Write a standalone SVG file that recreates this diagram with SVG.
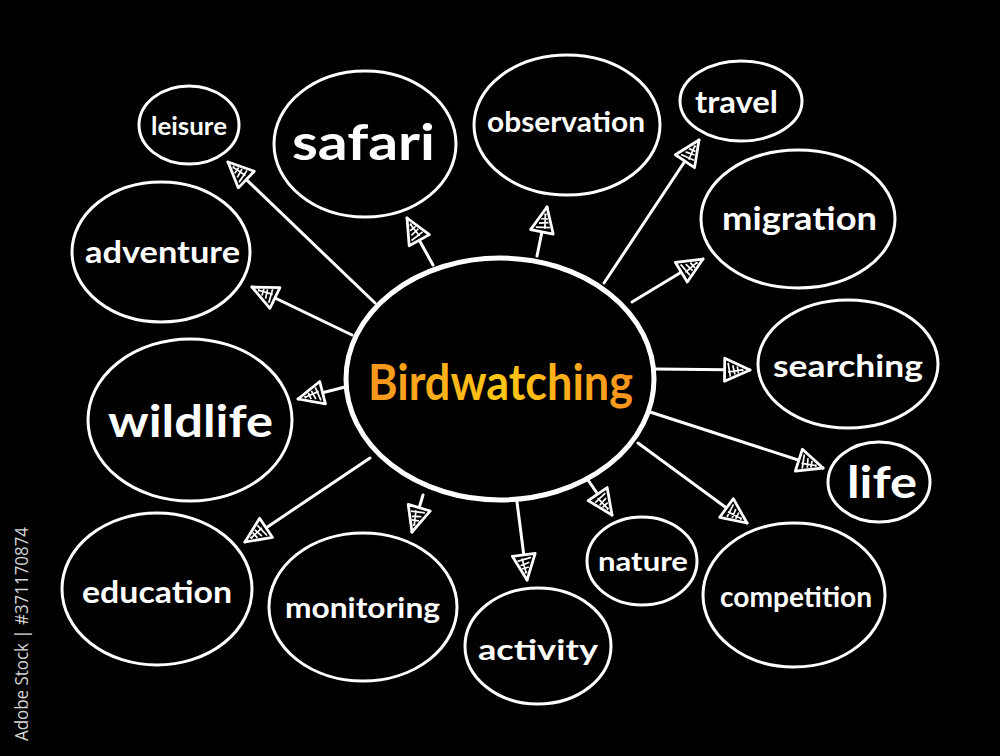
<svg xmlns="http://www.w3.org/2000/svg" width="1000" height="756" viewBox="0 0 1000 756">
<style>
.bg{fill:#000}
.node{fill:#000;stroke:#fff;stroke-width:3}
.center{fill:#000;stroke:#fff;stroke-width:5}
.lbl{fill:#fff;font-family:Lato,"Open Sans",sans-serif;font-weight:700}
.conn{stroke:#fff;stroke-width:3;fill:none;stroke-linecap:round}
.stock{fill:#d4d4d4;font-family:"Open Sans","Noto Sans",sans-serif;font-size:19px}
</style>
<defs>
<linearGradient id="gold" x1="368" y1="0" x2="633" y2="0" gradientUnits="userSpaceOnUse">
<stop offset="0" stop-color="#f7931e"/>
<stop offset="0.5" stop-color="#ffc815"/>
<stop offset="1" stop-color="#f7931e"/>
</linearGradient>
<marker id="arr" viewBox="0 0 26 24" refX="24" refY="12" markerWidth="30" markerHeight="28" markerUnits="userSpaceOnUse" orient="auto">
<path d="M2,2 L24,12 L2,22 Z" fill="#000" stroke="#fff" stroke-width="2.4" stroke-linejoin="round"/>
<path d="M5,6 L7,18 M9,8 L11,16 M13,9 L14,15 M17,11 L18,13 M5,14 L17,12" stroke="#fff" stroke-width="1.5" fill="none"/>
</marker>
</defs>
<rect class="bg" x="0" y="0" width="1000" height="756"/>

<g id="connectors">
<line class="conn" x1="375" y1="303" x2="228" y2="162" marker-end="url(#arr)"/>
<line class="conn" x1="433" y1="265" x2="407" y2="218" marker-end="url(#arr)"/>
<line class="conn" x1="537" y1="256" x2="547" y2="207" marker-end="url(#arr)"/>
<line class="conn" x1="604" y1="283" x2="699" y2="140" marker-end="url(#arr)"/>
<line class="conn" x1="632" y1="302" x2="703" y2="259" marker-end="url(#arr)"/>
<line class="conn" x1="655" y1="369" x2="750" y2="370" marker-end="url(#arr)"/>
<line class="conn" x1="650" y1="412" x2="823" y2="468" marker-end="url(#arr)"/>
<line class="conn" x1="638" y1="443" x2="747" y2="523" marker-end="url(#arr)"/>
<line class="conn" x1="588" y1="480" x2="612" y2="515" marker-end="url(#arr)"/>
<line class="conn" x1="517" y1="502" x2="527" y2="580" marker-end="url(#arr)"/>
<line class="conn" x1="423" y1="495" x2="412" y2="532" marker-end="url(#arr)"/>
<line class="conn" x1="370" y1="458" x2="245" y2="542" marker-end="url(#arr)"/>
<line class="conn" x1="345" y1="387" x2="298" y2="399" marker-end="url(#arr)"/>
<line class="conn" x1="352" y1="335" x2="252" y2="287" marker-end="url(#arr)"/>
</g>

<g id="node-center">
<ellipse class="center" cx="500" cy="379" rx="154" ry="121"/>
<text x="368" y="400" font-family="Lato,'Open Sans',sans-serif" font-weight="700" font-size="50" fill="url(#gold)" textLength="265" lengthAdjust="spacingAndGlyphs">Birdwatching</text>
</g>

<g id="node-leisure">
<ellipse class="node" cx="189" cy="125" rx="50" ry="39"/>
<text class="lbl" x="151" y="135" font-size="25" textLength="76" lengthAdjust="spacingAndGlyphs">leisure</text>
</g>
<g id="node-safari">
<ellipse class="node" cx="365" cy="144" rx="91" ry="73"/>
<text class="lbl" x="292" y="160" font-size="50" textLength="143" lengthAdjust="spacingAndGlyphs">safari</text>
</g>
<g id="node-observation">
<ellipse class="node" cx="567" cy="125" rx="93" ry="70"/>
<text class="lbl" x="487" y="132" font-size="28" textLength="158" lengthAdjust="spacingAndGlyphs">observation</text>
</g>
<g id="node-travel">
<ellipse class="node" cx="741" cy="101" rx="61" ry="40"/>
<text class="lbl" x="695" y="113" font-size="31" textLength="83" lengthAdjust="spacingAndGlyphs">travel</text>
</g>
<g id="node-migration">
<ellipse class="node" cx="798" cy="219" rx="97" ry="69"/>
<text class="lbl" x="722" y="230" font-size="33" textLength="155" lengthAdjust="spacingAndGlyphs">migration</text>
</g>
<g id="node-searching">
<ellipse class="node" cx="848" cy="364" rx="90" ry="64"/>
<text class="lbl" x="773" y="377" font-size="31" textLength="150" lengthAdjust="spacingAndGlyphs">searching</text>
</g>
<g id="node-life">
<ellipse class="node" cx="879" cy="482" rx="51" ry="40"/>
<text class="lbl" x="847" y="498" font-size="43" textLength="70" lengthAdjust="spacingAndGlyphs">life</text>
</g>
<g id="node-competition">
<ellipse class="node" cx="794" cy="595" rx="91" ry="72"/>
<text class="lbl" x="720" y="607" font-size="28" textLength="152" lengthAdjust="spacingAndGlyphs">competition</text>
</g>
<g id="node-nature">
<ellipse class="node" cx="642" cy="561" rx="55" ry="44"/>
<text class="lbl" x="598" y="571" font-size="27" textLength="90" lengthAdjust="spacingAndGlyphs">nature</text>
</g>
<g id="node-activity">
<ellipse class="node" cx="538" cy="646" rx="73" ry="58"/>
<text class="lbl" x="478" y="660" font-size="29" textLength="120" lengthAdjust="spacingAndGlyphs">activity</text>
</g>
<g id="node-monitoring">
<ellipse class="node" cx="363" cy="607" rx="94" ry="74"/>
<text class="lbl" x="285" y="618" font-size="28" textLength="155" lengthAdjust="spacingAndGlyphs">monitoring</text>
</g>
<g id="node-education">
<ellipse class="node" cx="157" cy="589" rx="95" ry="76"/>
<text class="lbl" x="82" y="603" font-size="30" textLength="150" lengthAdjust="spacingAndGlyphs">education</text>
</g>
<g id="node-wildlife">
<ellipse class="node" cx="190" cy="420" rx="102" ry="81"/>
<text class="lbl" x="108" y="437" font-size="44" textLength="165" lengthAdjust="spacingAndGlyphs">wildlife</text>
</g>
<g id="node-adventure">
<ellipse class="node" cx="161" cy="252" rx="89" ry="70"/>
<text class="lbl" x="85" y="263" font-size="30" textLength="155" lengthAdjust="spacingAndGlyphs">adventure</text>
</g>

<text class="stock" transform="translate(28,741) rotate(-90)" textLength="214" lengthAdjust="spacingAndGlyphs">Adobe Stock | #371170874</text>
</svg>
